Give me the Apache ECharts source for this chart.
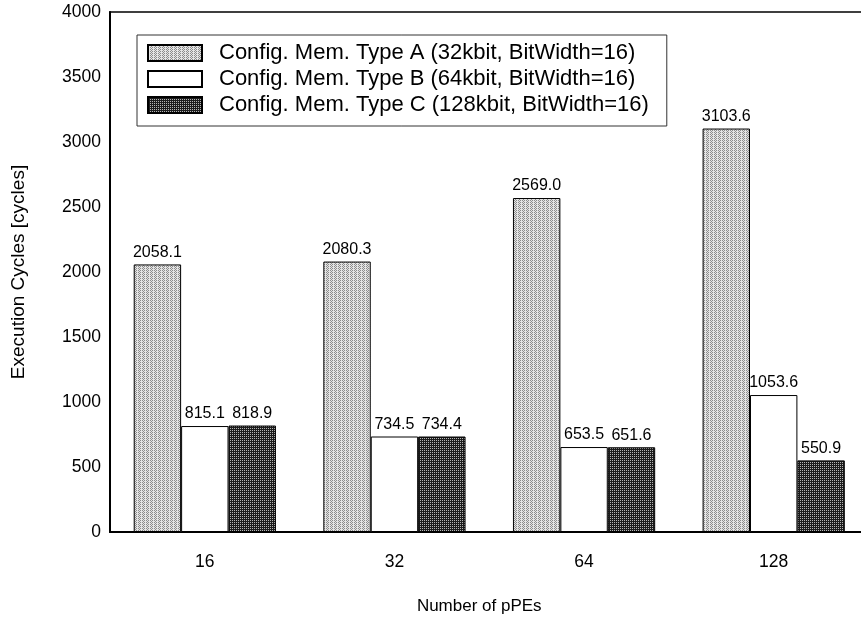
<!DOCTYPE html>
<html>
<head>
<meta charset="utf-8">
<script src="https://cdn.jsdelivr.net/npm/echarts@6/dist/echarts.min.js"></script>
<style>
  html, body { margin: 0; padding: 0; background: #fff; }
  #chart { width: 861px; height: 623px; }
</style>
</head>
<body>
<div id="chart"></div>
<script>
// Execution cycles per configuration memory type, grouped by pPE count
const categories = ['16', '32', '64', '128'];
const seriesNames = [
  'Config. Mem. Type A (32kbit, BitWidth=16)',
  'Config. Mem. Type B (64kbit, BitWidth=16)',
  'Config. Mem. Type C (128kbit, BitWidth=16)'
];
const typeA = [2058.1, 2080.3, 2569.0, 3103.6];
const typeB = [815.1, 734.5, 653.5, 1053.6];
const typeC = [818.9, 734.4, 651.6, 550.9];
const yTicks = { min: 0, max: 4000, step: 500 };

// Small repeating dot textures for the patterned bars
function makePattern(bg, dot, test) {
  const c = document.createElement('canvas');
  c.width = 4; c.height = 4;
  const ctx = c.getContext('2d');
  ctx.fillStyle = bg;
  ctx.fillRect(0, 0, 4, 4);
  ctx.fillStyle = dot;
  for (let x = 0; x < 4; x++) {
    for (let y = 0; y < 4; y++) {
      if (test(x, y)) ctx.fillRect(x, y, 1, 1);
    }
  }
  return { image: c, repeat: 'repeat' };
}
const lightDots = makePattern('#e4e4e4', '#8c8c8c', (x, y) => (x + y) % 2 === 0 && x !== 1);
const darkDots = makePattern('#1c1c1c', '#b4b4b4', (x, y) => x % 2 === 0 && y % 2 === 0);

const fontFamily = 'Liberation Sans, Arial, sans-serif';

function barSeries(name, data, color) {
  return {
    name: name,
    type: 'bar',
    data: data,
    barGap: '0%',
    barCategoryGap: '25%',
    itemStyle: { color: color, borderColor: '#000', borderWidth: 1 },
    emphasis: { disabled: true },
    label: {
      show: true,
      position: 'top',
      distance: 4,
      color: '#000',
      fontSize: 16,
      fontFamily: fontFamily,
      formatter: p => p.value.toFixed(1)
    }
  };
}

const chart = echarts.init(document.getElementById('chart'), null, { renderer: 'canvas' });
chart.setOption({
  animation: false,
  backgroundColor: '#fff',
  textStyle: { fontFamily: fontFamily },
  grid: {
    left: 110, top: 12, width: 758.5, height: 520,
    show: true, borderColor: '#000', borderWidth: 1.5,
    containLabel: false,
    outerBoundsMode: 'none'
  },
  legend: {
    orient: 'vertical',
    left: 137, top: 35,
    icon: 'rect',
    itemWidth: 54, itemHeight: 16, itemGap: 2,
    padding: [6, 18, 9, 10],
    borderColor: '#333', borderWidth: 1,
    backgroundColor: '#fff',
    selectedMode: false,
    textStyle: {
      fontSize: 22, lineHeight: 24, color: '#000', fontFamily: fontFamily,
      padding: [0, 0, 0, 12]
    },
    data: seriesNames
  },
  xAxis: {
    type: 'category',
    data: categories,
    name: 'Number of pPEs',
    nameLocation: 'middle',
    nameGap: 66,
    nameTextStyle: { fontSize: 17, color: '#000', padding: [0, 20, 0, 0] },
    axisLine: { lineStyle: { color: '#000', width: 2 } },
    axisTick: { show: false },
    axisLabel: { fontSize: 17.5, color: '#000', margin: 21 }
  },
  yAxis: {
    type: 'value',
    min: yTicks.min, max: yTicks.max, interval: yTicks.step,
    name: 'Execution Cycles [cycles]',
    nameLocation: 'middle',
    nameGap: 82,
    nameTextStyle: { fontSize: 19, color: '#000' },
    axisLine: { show: true, lineStyle: { color: '#000', width: 2 } },
    axisTick: { show: false },
    splitLine: { show: false },
    axisLabel: { fontSize: 17.5, color: '#000', margin: 9, formatter: v => String(v) }
  },
  series: [
    barSeries(seriesNames[0], typeA, lightDots),
    barSeries(seriesNames[1], typeB, '#fff'),
    barSeries(seriesNames[2], typeC, darkDots)
  ]
});
</script>
</body>
</html>
